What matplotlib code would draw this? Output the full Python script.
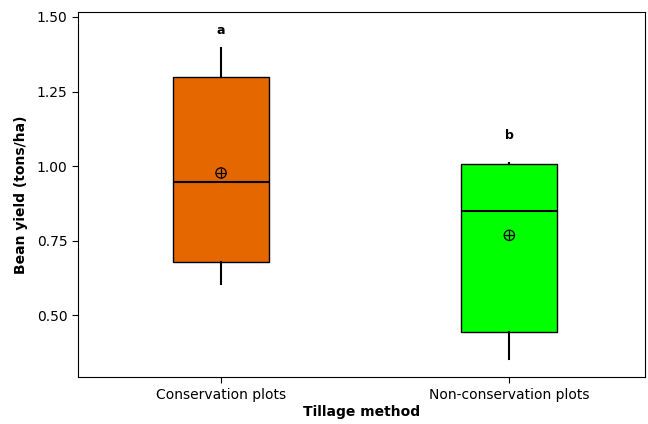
import numpy as np
import matplotlib.pyplot as plt

# ── Summary statistics per tillage method ────────────────────
groups = ["Conservation plots", "Non-conservation plots"]
whisker_lo = [0.604, 0.352]
q1 = [0.678, 0.443]
median = [0.946, 0.849]
q3 = [1.299, 1.007]
whisker_hi = [1.396, 1.010]
mean = [0.977, 0.768]
letters = ["a", "b"]
letter_y = [1.456, 1.104]
colors = ["#E56700", "#00FF00"]

stats = []
for i, g in enumerate(groups):
    stats.append(dict(label=g, whislo=whisker_lo[i], q1=q1[i], med=median[i],
                      q3=q3[i], whishi=whisker_hi[i], mean=mean[i], fliers=[]))

fig, ax = plt.subplots(figsize=(6.48, 4.24), dpi=100)
fig.subplots_adjust(left=0.12, right=0.996, top=0.972, bottom=0.11)

pos = np.arange(1, len(groups) + 1)
bp = ax.bxp(stats, positions=pos, widths=0.333, patch_artist=True,
            showcaps=False, showfliers=False, showmeans=False,
            medianprops=dict(color="black", linewidth=1.5),
            whiskerprops=dict(color="black", linewidth=1.5),
            boxprops=dict(edgecolor="black", linewidth=1.0))
for patch, c in zip(bp["boxes"], colors):
    patch.set_facecolor(c)

# mean shown as circled plus
ax.scatter(pos, mean, s=55, marker="o", facecolors="none", edgecolors="black",
           linewidths=0.9, zorder=5)
ax.scatter(pos, mean, s=55, marker="+", color="black", linewidths=0.9, zorder=5)

for p, t, y in zip(pos, letters, letter_y):
    ax.text(p, y, t, ha="center", va="center", fontsize=9, fontweight="bold")

ax.set_xlim(0.503, 2.472)
ax.set_ylim(0.292, 1.517)
ax.set_yticks([0.50, 0.75, 1.00, 1.25, 1.50])
ax.set_yticklabels(["0.50", "0.75", "1.00", "1.25", "1.50"])
ax.set_xticks(pos)
ax.set_xticklabels(groups)
ax.tick_params(labelsize=10, length=4)
ax.set_xlabel("Tillage method", fontsize=10, fontweight="bold", labelpad=2)
ax.set_ylabel("Bean yield (tons/ha)", fontsize=10, fontweight="bold", labelpad=6)

plt.savefig("out.png", dpi=100)
